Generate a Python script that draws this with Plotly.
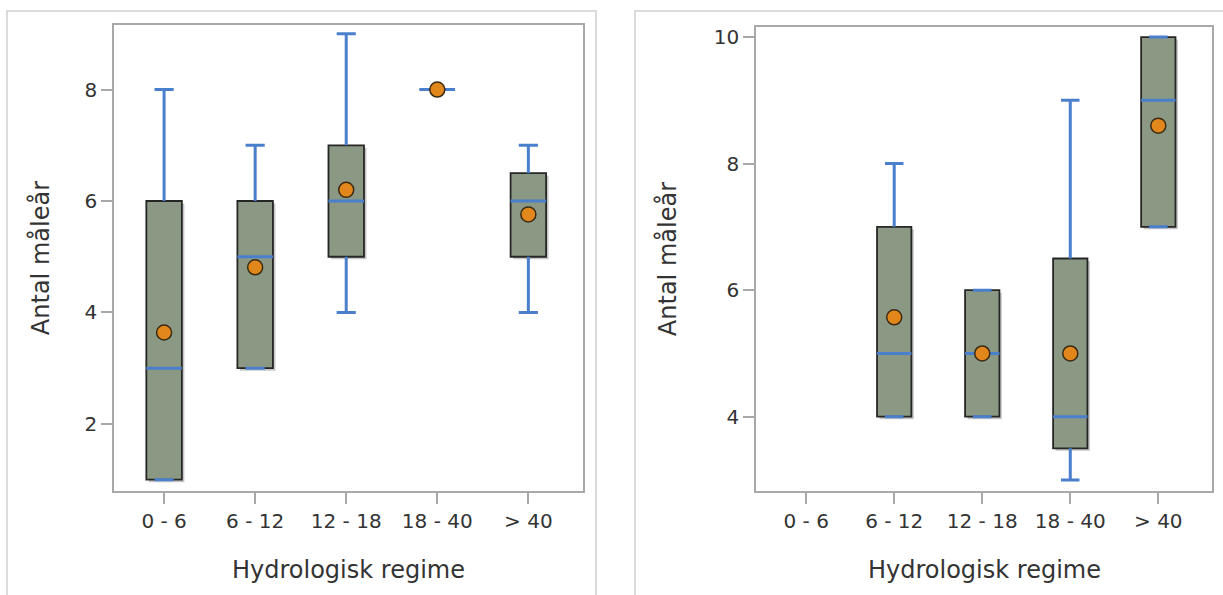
import plotly.graph_objects as go

# Hydrological regime classes (x categories)
categories = ["0 - 6", "6 - 12", "12 - 18", "18 - 40", "> 40"]

# Left panel: summary statistics of "Antal måleår"
left_min = [1, 3, 4, 8, 4]
left_q1 = [1, 3, 5, 8, 5]
left_median = [3, 5, 6, 8, 6]
left_q3 = [6, 6, 7, 8, 6.5]
left_max = [8, 7, 9, 8, 7]
left_mean = [3.64, 4.81, 6.2, 8.0, 5.76]

# Right panel: summary statistics (no data for the first class)
right_min = [None, 4, 4, 3, 7]
right_q1 = [None, 4, 4, 3.5, 7]
right_median = [None, 5, 5, 4, 9]
right_q3 = [None, 7, 6, 6.5, 10]
right_max = [None, 8, 6, 9, 10]
right_mean = [None, 5.57, 5.0, 5.0, 8.6]

W, H = 1223, 595
FONT = "DejaVu Sans"
BOX_FILL = "#8b9984"
BOX_LINE = "#262626"
WHISKER = "#4a7fcc"
MEAN_FILL = "#e2871c"
MEAN_LINE = "#3b2a12"
AXIS_GRAY = "#a8a8a8"
TEXT = "#333333"

BOX_W = 0.39
CAP_W = 0.21

fig = go.Figure()


def add_panel(fig, xa, ya, mins, q1, med, q3, mx, mean, px_per_unit):
    xs = [i for i in range(len(categories)) if q1[i] is not None]
    # soft drop shadow behind each box
    sx = 2.5 / 90.0
    sy = 2.5 / px_per_unit
    fig.add_trace(go.Bar(
        x=[i + sx for i in xs], base=[q1[i] - sy for i in xs],
        y=[q3[i] - q1[i] for i in xs], width=BOX_W,
        marker=dict(color="rgba(0,0,0,0.22)", line=dict(width=0)),
        xaxis=xa, yaxis=ya, showlegend=False, hoverinfo="skip"))
    # interquartile boxes
    fig.add_trace(go.Bar(
        x=xs, base=[q1[i] for i in xs], y=[q3[i] - q1[i] for i in xs],
        width=BOX_W,
        marker=dict(color=BOX_FILL, line=dict(color=BOX_LINE, width=1.8)),
        xaxis=xa, yaxis=ya, showlegend=False))
    # whiskers (outside the box) and caps
    wx, wy = [], []
    for i in xs:
        wx += [i, i, None, i, i, None]
        wy += [q3[i], mx[i], None, q1[i], mins[i], None]
        wx += [i - CAP_W / 2, i + CAP_W / 2, None, i - CAP_W / 2, i + CAP_W / 2, None]
        wy += [mx[i], mx[i], None, mins[i], mins[i], None]
    fig.add_trace(go.Scatter(
        x=wx, y=wy, mode="lines", line=dict(color=WHISKER, width=3),
        xaxis=xa, yaxis=ya, showlegend=False, hoverinfo="skip"))
    # medians
    mxs, mys = [], []
    for i in xs:
        mxs += [i - BOX_W / 2, i + BOX_W / 2, None]
        mys += [med[i], med[i], None]
    fig.add_trace(go.Scatter(
        x=mxs, y=mys, mode="lines", line=dict(color=WHISKER, width=3),
        xaxis=xa, yaxis=ya, showlegend=False, hoverinfo="skip"))
    # means
    fig.add_trace(go.Scatter(
        x=xs, y=[mean[i] for i in xs], mode="markers",
        marker=dict(size=15, color=MEAN_FILL, line=dict(color=MEAN_LINE, width=1.5)),
        xaxis=xa, yaxis=ya, showlegend=False))


add_panel(fig, "x", "y", left_min, left_q1, left_median, left_q3, left_max, left_mean, 56.0)
add_panel(fig, "x2", "y2", right_min, right_q1, right_median, right_q3, right_max, right_mean, 63.5)

axis_common = dict(
    showline=True, mirror=True, linecolor=AXIS_GRAY, linewidth=1.5,
    showgrid=False, zeroline=False, ticks="outside", ticklen=11,
    tickwidth=1.5, tickcolor=AXIS_GRAY,
    tickfont=dict(family=FONT, size=20, color=TEXT),
)


def px_x(p):
    return p / W


def px_y(p):
    return 1 - p / H


fig.update_layout(
    width=W, height=H, margin=dict(l=0, r=0, t=0, b=0),
    paper_bgcolor="white", plot_bgcolor="white", barmode="overlay",
    xaxis=dict(domain=[px_x(114), px_x(583)], range=[-0.55, 4.6],
               tickvals=list(range(5)), ticktext=categories, anchor="y", **axis_common),
    yaxis=dict(domain=[px_y(491), px_y(23)], range=[0.79, 9.16],
               tickvals=[2, 4, 6, 8], anchor="x", **axis_common),
    xaxis2=dict(domain=[px_x(756), px_x(1212)], range=[-0.57, 4.61],
                tickvals=list(range(5)), ticktext=categories, anchor="y2", **axis_common),
    yaxis2=dict(domain=[px_y(491), px_y(25)], range=[2.82, 10.16],
                tickvals=[4, 6, 8, 10], anchor="x2", **axis_common),
    showlegend=False,
)

# panel frames
for x0, x1 in [(7, 596), (635, 1240)]:
    fig.add_shape(type="rect", xref="paper", yref="paper",
                  x0=px_x(x0), x1=px_x(x1), y0=px_y(620), y1=px_y(9),
                  line=dict(color="#cfcfcf", width=1.5), fillcolor="rgba(0,0,0,0)",
                  layer="below")

# axis titles
title_font = dict(family=FONT, size=24, color=TEXT)
for cx in (348.5, 984):
    fig.add_annotation(text="Hydrologisk regime", xref="paper", yref="paper",
                       x=px_x(cx), y=px_y(570), showarrow=False, font=title_font,
                       xanchor="center", yanchor="middle")
for cx, cy in ((40, 257), (667, 258)):
    fig.add_annotation(text="Antal måleår", xref="paper", yref="paper",
                       x=px_x(cx), y=px_y(cy), showarrow=False, font=title_font,
                       textangle=-90, xanchor="center", yanchor="middle")

fig.write_html("out.html")
